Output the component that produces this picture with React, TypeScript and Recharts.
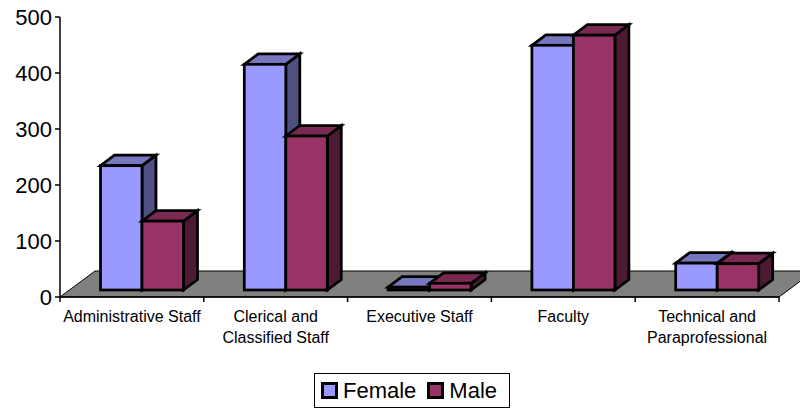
import React from 'react';
import { BarChart, Bar, XAxis, YAxis, Legend } from 'recharts';

const categories = ['Administrative Staff', 'Clerical and Classified Staff', 'Executive Staff', 'Faculty', 'Technical and Paraprofessional'];
const categoryLines = [['Administrative Staff'], ['Clerical and', 'Classified Staff'], ['Executive Staff'], ['Faculty'], ['Technical and', 'Paraprofessional']];
const female = [222, 403, 5, 437, 48];
const male = [123, 275, 12, 455, 47];
const yTicks = [0, 100, 200, 300, 400, 500];

const data = categories.map((name, i) => ({ name, female: female[i], male: male[i] }));

const FONT = '"Liberation Sans", Arial, sans-serif';
const BAND = 143.8;
// fake 3D offsets
const DX = 14;
const DY = 10.5;
const SHIFT_X = 10.5;
const SHIFT_Y = -7;

const Bar3D = ({ x, y, width, height, fill, topFill, sideFill }: any) => {
  const l = x + SHIFT_X;
  const r = l + width;
  const t = y + SHIFT_Y;
  const b = t + height;
  return (
    <g stroke="#000" strokeWidth={2.75} strokeLinejoin="miter">
      <polygon points={`${r},${t} ${r + DX},${t - DY} ${r + DX},${b - DY} ${r},${b}`} fill={sideFill} />
      <polygon points={`${l},${t} ${l + DX},${t - DY} ${r + DX},${t - DY} ${r},${t}`} fill={topFill} />
      <rect x={l} y={t} width={width} height={height} fill={fill} />
    </g>
  );
};

const CategoryTick = ({ x, y, index }: any) => (
  <g>
    <line x1={x - BAND / 2} x2={x - BAND / 2} y1={y} y2={y + 5} stroke="#000" strokeWidth={1.5} />
    {index === categories.length - 1 && <line x1={x + BAND / 2} x2={x + BAND / 2} y1={y} y2={y + 5} stroke="#000" strokeWidth={1.5} />}
    <text x={x} textAnchor="middle" fontFamily={FONT} fontSize={16} fill="#000" style={{ fontSize: 16 }}>
      {categoryLines[index].map((line, i) => (
        <tspan key={line} x={x} y={y + 25 + i * 21}>{line}</tspan>
      ))}
    </text>
  </g>
);

const LegendBox = ({ payload }: any) => (
  <div style={{ boxSizing: 'border-box', width: 196, height: 35, border: '1px solid #000', display: 'flex', alignItems: 'center', paddingLeft: 6, fontFamily: FONT, fontSize: 22, color: '#000' }}>
    {(payload || []).map((item: any) => (
      <span key={item.value} style={{ display: 'flex', alignItems: 'center', marginRight: 11 }}>
        <span style={{ boxSizing: 'border-box', width: 17, height: 17, background: item.color, border: '3px solid #000', marginRight: 5 }} />
        {item.value}
      </span>
    ))}
  </div>
);

export default function App() {
  return (
    <div style={{ position: 'absolute', left: 0, top: 0, width: 800, height: 408 }}>
      <BarChart width={800} height={408} data={data} margin={{ top: 17, right: 21, bottom: 0, left: 0 }} barSize={41.5} barGap={0}>
        <polygon points="60,297 95,271 814,271 779,297" fill="#808080" stroke="#000" strokeWidth={1} />
        <XAxis dataKey="name" height={111} interval={0} tickLine={false} tickSize={0} tickMargin={0} tick={<CategoryTick />} stroke="#000" strokeWidth={1.5} />
        <YAxis width={60} domain={[0, 500]} ticks={yTicks} tickSize={5} tickMargin={3} stroke="#000" strokeWidth={1.5} tick={{ fill: '#000', fontFamily: FONT, fontSize: 22 }} />
        <Legend verticalAlign="middle" content={<LegendBox />} wrapperStyle={{ left: 314, top: 373, width: 196, height: 35, bottom: 'auto' }} />
        <Bar dataKey="female" name="Female" fill="#9999FF" isAnimationActive={false} shape={<Bar3D topFill="#7777C0" sideFill="#4F4F80" />} />
        <Bar dataKey="male" name="Male" fill="#993366" isAnimationActive={false} shape={<Bar3D topFill="#7A2952" sideFill="#4D1A33" />} />
      </BarChart>
    </div>
  );
}
